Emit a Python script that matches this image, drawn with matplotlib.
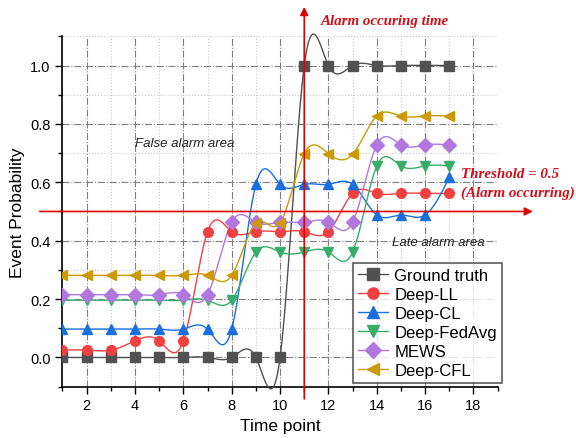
import numpy as np
import matplotlib
matplotlib.use("Agg")
import matplotlib.pyplot as plt
from matplotlib.ticker import MultipleLocator

# ── data ──────────────────────────────────────────────────────────────────────
time_points = [1, 2, 3, 4, 5, 6, 7, 8, 9, 10, 11, 12, 13, 14, 15, 16, 17]

ground_truth = [0, 0, 0, 0, 0, 0, 0, 0, 0, 0, 1, 1, 1, 1, 1, 1, 1]
deep_ll = [0.025, 0.025, 0.025, 0.057, 0.057, 0.057, 0.431, 0.431, 0.431, 0.431,
           0.431, 0.431, 0.562, 0.562, 0.562, 0.562, 0.562]
deep_cl = [0.097, 0.097, 0.097, 0.097, 0.097, 0.097, 0.097, 0.097, 0.593, 0.593,
           0.593, 0.593, 0.593, 0.488, 0.488, 0.488, 0.617]
deep_fedavg = [0.196, 0.196, 0.196, 0.196, 0.196, 0.196, 0.196, 0.196, 0.361, 0.361,
               0.361, 0.361, 0.361, 0.656, 0.656, 0.656, 0.656]
mews = [0.215, 0.215, 0.215, 0.215, 0.215, 0.215, 0.215, 0.463, 0.463, 0.463,
        0.463, 0.463, 0.463, 0.728, 0.728, 0.728, 0.728]
deep_cfl = [0.281, 0.281, 0.281, 0.281, 0.281, 0.281, 0.281, 0.281, 0.461, 0.461,
            0.698, 0.698, 0.696, 0.827, 0.827, 0.827, 0.827]

series = [
    ("Ground truth", ground_truth, "#515151", "s"),
    ("Deep-LL", deep_ll, "#F14040", "o"),
    ("Deep-CL", deep_cl, "#1A6FDF", "^"),
    ("Deep-FedAvg", deep_fedavg, "#37AD6B", "v"),
    ("MEWS", mews, "#B177DE", "D"),
    ("Deep-CFL", deep_cfl, "#CC9900", "<"),
]


def natural_spline(x, y, n=400):
    """Natural cubic spline through the points (Origin-style 'Spline' connect)."""
    x = np.asarray(x, float)
    y = np.asarray(y, float)
    k = len(x)
    h = np.diff(x)
    A = np.zeros((k, k))
    b = np.zeros(k)
    A[0, 0] = A[-1, -1] = 1
    for i in range(1, k - 1):
        A[i, i - 1] = h[i - 1]
        A[i, i] = 2 * (h[i - 1] + h[i])
        A[i, i + 1] = h[i]
        b[i] = 6 * ((y[i + 1] - y[i]) / h[i] - (y[i] - y[i - 1]) / h[i - 1])
    M = np.linalg.solve(A, b)
    xs = np.linspace(x[0], x[-1], n)
    idx = np.clip(np.searchsorted(x, xs) - 1, 0, k - 2)
    x0, x1 = x[idx], x[idx + 1]
    hh = x1 - x0
    t0, t1 = x1 - xs, xs - x0
    ys = (M[idx] * t0 ** 3 + M[idx + 1] * t1 ** 3) / (6 * hh) \
        + (y[idx] / hh - M[idx] * hh / 6) * t0 \
        + (y[idx + 1] / hh - M[idx + 1] * hh / 6) * t1
    return xs, ys


plt.rcParams["font.family"] = ["Liberation Sans", "DejaVu Sans"]

fig = plt.figure(figsize=(5.76, 4.39), dpi=100)
ax = fig.add_axes([0.1085, 0.117, 0.7555, 0.798])

for label, vals, color, marker in series:
    xs, ys = natural_spline(time_points, vals)
    ax.plot(xs, ys, color=color, linewidth=1.0, zorder=3, clip_on=False)
    ax.plot(time_points, vals, linestyle="none", marker=marker, color=color,
            markersize=7, zorder=4)
    ax.plot([], [], color=color, marker=marker, markersize=8, linewidth=1.0, label=label)

ax.set_xlim(1, 19)
ax.set_ylim(-0.1, 1.1)
ax.xaxis.set_minor_locator(MultipleLocator(1))
ax.yaxis.set_minor_locator(MultipleLocator(0.1))
ax.set_xticks([2, 4, 6, 8, 10, 12, 14, 16, 18])
ax.set_yticks([0.0, 0.2, 0.4, 0.6, 0.8, 1.0])
ax.yaxis.set_major_formatter(matplotlib.ticker.FormatStrFormatter("%.1f"))

ax.grid(which="major", color="#808080", linestyle="-.", linewidth=0.8)
ax.grid(which="minor", color="#c8c8c8", linestyle=":", linewidth=0.8)
ax.set_axisbelow(True)

ax.spines["top"].set_visible(False)
ax.spines["right"].set_visible(False)
for s in ("left", "bottom"):
    ax.spines[s].set_linewidth(1.2)
ax.tick_params(which="major", direction="out", length=5, width=1.0, labelsize=10.5)
ax.tick_params(which="minor", direction="out", length=3, width=1.0)

ax.set_xlabel("Time point", fontsize=12.5, labelpad=4)
ax.set_ylabel("Event Probability", fontsize=12.5, labelpad=4)

# red alarm arrows
ax.annotate("", xy=(11, 1.084), xytext=(11, -0.035),
            xycoords=ax.get_xaxis_transform(), textcoords=ax.get_xaxis_transform(),
            arrowprops=dict(arrowstyle="-|>", color="#E00000", lw=1.2,
                            mutation_scale=12, shrinkA=0, shrinkB=0), zorder=6)
ax.annotate("", xy=(1.081, 0.5), xytext=(-0.052, 0.5),
            xycoords=ax.get_yaxis_transform(), textcoords=ax.get_yaxis_transform(),
            arrowprops=dict(arrowstyle="-|>", color="#E00000", lw=1.2,
                            mutation_scale=12, shrinkA=0, shrinkB=0), zorder=6)

red_font = dict(family=["Liberation Serif", "DejaVu Serif"], style="italic",
                weight="bold", color="#D0101A", fontsize=10.8)
fig.text(321 / 576, 1 - 22 / 439, "Alarm occuring time", va="center", **red_font)
fig.text(461 / 576, 1 - 174 / 439, "Threshold = 0.5", va="center", **red_font)
fig.text(461 / 576, 1 - 193 / 439, "(Alarm occurring)", va="center", **red_font)

ax.text(6.07, 0.734, "False alarm area", style="italic", fontsize=9.5,
        ha="center", va="center", color="#222222")
ax.text(16.53, 0.396, "Late alarm area", style="italic", fontsize=9.5,
        ha="center", va="center", color="#222222", zorder=2)

leg = ax.legend(loc="lower right", bbox_to_anchor=(1.01, 0.01), fontsize=12,
                frameon=True, fancybox=False, edgecolor="#333333",
                handlelength=1.8, handletextpad=0.4, borderpad=0.3,
                borderaxespad=0, labelspacing=0.24)
leg.get_frame().set_linewidth(1.2)
leg.set_zorder(7)

fig.savefig("out.png", dpi=100)
